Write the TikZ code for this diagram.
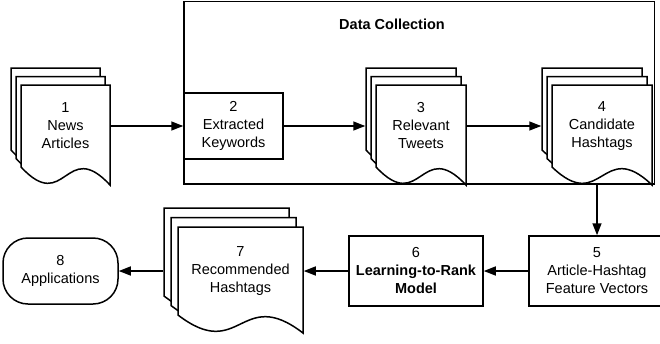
\documentclass[tikz,border=0pt]{standalone}
\usepackage{fontspec}
\setmainfont{Liberation Sans}
\usetikzlibrary{arrows.meta}

% stack of three document sheets: left, top, width, height, dx, dy
\newcommand{\docstack}[6]{%
  \foreach \k in {2,1,0}{
    \draw[sheet, shift={({-#5*\k},{-#6*\k})}] (#1,#2) -- (#1,#2+#4)
      .. controls (#1+#3/2,#2+#4+48) and (#1+#3/2,#2+#4-30) .. (#1+#3,#2+#4+18)
      -- (#1+#3,#2) -- cycle;
  }
}

\begin{document}
\begin{tikzpicture}[x=1pt,y=-1pt,line width=1.5pt,
    every node/.style={font=\fontsize{14.5}{18}\selectfont, align=center, inner sep=0pt},
    sheet/.style={draw, fill=white, line join=miter},
    box/.style={draw, fill=white},
    doctext/.style={minimum height=82pt},
    arr/.style={-{Triangle[length=12pt,width=9pt]}}]
  \useasboundingbox (0,0) rectangle (660,343);

  % data collection frame
  \node[draw, minimum width=470.5pt, minimum height=182.5pt] (dc) at (419.25,92.75) {};
  \node[font=\fontsize{14.5}{18}\selectfont\bfseries] (dctitle) at (392,24) {Data Collection};

  % top row
  \docstack{21}{85}{89}{82}{5}{8.5}
  \node[doctext, minimum width=89pt] (news) at (65.5,126) {1\\News\\Articles};
  \node[box, minimum width=99pt, minimum height=66pt] (kw) at (233.5,126) {2\\Extracted\\Keywords};
  \docstack{376}{85}{90}{82}{5}{8.5}
  \node[doctext, minimum width=90pt] (tweets) at (421,126) {3\\Relevant\\Tweets};
  \docstack{552}{85}{100}{82}{5}{8.5}
  \node[doctext, minimum width=100pt] (cands) at (602,126) {4\\Candidate\\Hashtags};

  % bottom row
  \node[box, minimum width=136pt, minimum height=70pt] (feat) at (597,271) {5\\Article-Hashtag\\Feature Vectors};
  \node[box, minimum width=134pt, minimum height=70pt] (ltr) at (416,271) {6\\\textbf{Learning-to-Rank}\\\textbf{Model}};
  \docstack{178}{227}{125}{88}{7}{9.5}
  \node[minimum width=125pt, minimum height=88pt] (rec) at (240.5,271) {7\\Recommended\\Hashtags};
  \node[box, rounded corners=25pt, minimum width=115pt, minimum height=66pt] (apps) at (60.5,271) {8\\Applications};

  % connectors
  \draw[arr] (news.east) -- (kw.west);
  \draw[arr] (kw.east) -- ([xshift=-10pt]tweets.west);
  \draw[arr] (tweets.east) -- ([xshift=-10pt]cands.west);
  \draw[arr] (feat.north |- dc.south) -- (feat.north);
  \draw[arr] (feat.west) -- (ltr.east);
  \draw[arr] (ltr.west) -- (rec.east);
  \draw[arr] ([xshift=-14pt]rec.west) -- (apps.east);
\end{tikzpicture}
\end{document}
